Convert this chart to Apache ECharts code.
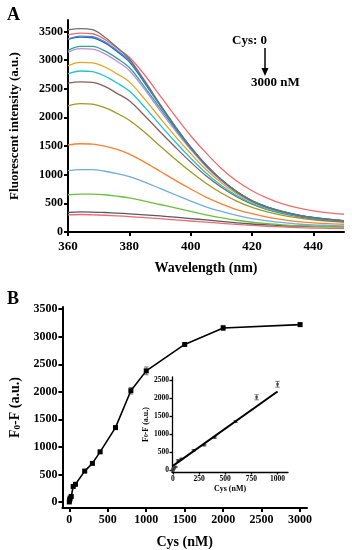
<!DOCTYPE html>
<html><head><meta charset="utf-8">
<script src="https://cdn.jsdelivr.net/npm/echarts@6/dist/echarts.min.js"></script>
<style>html,body{margin:0;padding:0;background:#fff}#c{width:352px;height:550px}</style>
</head><body><div id="c"></div>
<script>
// ---- Panel A data ----
const wavelengths = [360,364,368,372,376,380,385,390,395,400,405,410,415,420,425,430,435,440,445,450];
const concLabels = ['0','5','10','25','50','80','200','300','400','600','800','1000','1500','2000','3000'];
const curveColors = ['#707070','#f26b6b','#3b8fd8','#2d62b8','#2fa68a','#c48bdc','#e3a526','#1ec3d3','#8e5d5d','#9b9b24','#fb8030','#74acd8','#6cbf3a','#5a5a5a','#f06878'];
const c0    = [3530,3550,3530,3400,3220,3020,2640,2230,1840,1480,1170,910,700,540,430,350,290,250,220,195];
const c5    = [3440,3470,3460,3360,3210,3050,2740,2380,2020,1680,1380,1110,890,720,590,490,420,370,335,310];
const c10   = [3370,3420,3410,3320,3170,2990,2620,2220,1840,1480,1170,910,700,540,430,350,290,250,215,190];
const c25   = [3360,3400,3390,3300,3150,2970,2600,2210,1830,1480,1170,910,705,545,435,355,295,250,220,195];
const c50   = [3170,3240,3240,3160,3030,2870,2530,2160,1800,1460,1160,910,705,550,440,360,300,255,225,200];
const c80   = [3140,3200,3190,3110,2980,2820,2490,2120,1770,1440,1140,895,695,540,430,350,290,250,220,195];
const c200  = [2900,2960,2950,2880,2760,2620,2320,1990,1670,1370,1090,860,670,525,420,345,290,250,220,195];
const c300  = [2760,2810,2800,2720,2600,2460,2180,1870,1570,1290,1030,810,635,500,400,330,280,240,210,190];
const c400  = [2600,2620,2610,2540,2420,2290,2030,1750,1480,1220,980,780,615,485,390,320,270,230,200,180];
const c600  = [2200,2240,2230,2170,2070,1950,1740,1500,1270,1050,850,680,540,430,350,290,245,210,190,170];
const c800  = [1520,1540,1535,1500,1440,1360,1220,1060,900,750,610,490,390,320,260,215,180,160,145,135];
const c1000 = [1070,1090,1090,1060,1020,965,870,760,650,540,440,360,290,235,195,165,140,125,115,105];
const c1500 = [650,660,660,650,625,595,540,480,420,360,300,250,205,170,145,125,110,100,92,85];
const c2000 = [340,350,348,340,330,318,300,280,258,235,210,185,160,140,125,112,104,98,94,90];
const c3000 = [300,305,300,292,282,270,252,232,212,192,172,152,132,115,100,88,78,70,64,60];
const curves = [c0,c5,c10,c25,c50,c80,c200,c300,c400,c600,c800,c1000,c1500,c2000,c3000];
const yTicksA = [0,500,1000,1500,2000,2500,3000,3500];
const xTicksA = [360,380,400,420,440];

// ---- Panel B data ----
const cys = [0,5,10,25,50,80,200,300,400,600,800,1000,1500,2000,3000];
const quench = [0,40,70,100,280,320,560,700,910,1350,2020,2380,2860,3160,3220];
const quenchErr = [10,10,10,15,20,20,20,20,20,25,60,70,25,45,30];
const yTicksB = [0,500,1000,1500,2000,2500,3000,3500];
const xTicksB = [0,500,1000,1500,2000,2500,3000];
// inset
const insetCys = [0,5,10,25,50,80,200,300,400,600,800,1000];
const insetQ   = [0,40,70,100,280,320,560,700,910,1350,2020,2380];
const insetErr = [10,10,10,15,20,20,20,20,20,25,70,80];
const fitX = [0,1000];
const fitY = [130,2180];
const yTicksIn = [0,500,1000,1500,2000,2500];
const xTicksIn = [0,250,500,750,1000];

const FONT = '"Liberation Serif","Times New Roman",serif';
const chart = echarts.init(document.getElementById('c'), null, {renderer:'canvas'});

function mkAxis(fs, lw, ticks, margin, extra){
  return Object.assign({
    type:'value',
    axisLine:{show:true,onZero:false,lineStyle:{color:'#000',width:lw}},
    axisTick:{show:true,inside:false,length:lw>1.5?4:2.5,lineStyle:{color:'#000',width:lw},customValues:ticks},
    axisLabel:{color:'#000',fontFamily:FONT,fontWeight:'bold',fontSize:fs,margin:margin,
      customValues:ticks,formatter:(v)=>String(Math.round(v))},
    splitLine:{show:false}
  }, extra);
}

const series = [];
curves.forEach((c,i)=>{
  series.push({type:'line',xAxisIndex:0,yAxisIndex:0,name:concLabels[i]+' nM',
    data:wavelengths.map((w,j)=>[w,c[j]]),showSymbol:false,smooth:0.35,
    lineStyle:{color:curveColors[i],width:1.3},z:2+(15-i)});
});

function errRender(){
  return function(params, api){
    const x = api.value(0), y = api.value(1), e = api.value(2);
    const top = api.coord([x,y+e]), bot = api.coord([x,y-e]);
    const w = 2.2;
    return {type:'group',children:[
      {type:'line',shape:{x1:top[0],y1:top[1],x2:bot[0],y2:bot[1]},style:{stroke:'#555',lineWidth:0.8}},
      {type:'line',shape:{x1:top[0]-w,y1:top[1],x2:top[0]+w,y2:top[1]},style:{stroke:'#555',lineWidth:0.8}},
      {type:'line',shape:{x1:bot[0]-w,y1:bot[1],x2:bot[0]+w,y2:bot[1]},style:{stroke:'#555',lineWidth:0.8}}
    ]};
  };
}

series.push({type:'custom',xAxisIndex:1,yAxisIndex:1,renderItem:errRender(),
  data:cys.map((x,i)=>[x,quench[i],quenchErr[i]]),z:3});
series.push({type:'line',xAxisIndex:1,yAxisIndex:1,data:cys.map((x,i)=>[x,quench[i]]),
  symbol:'rect',symbolSize:5,itemStyle:{color:'#000'},lineStyle:{color:'#000',width:1.6},z:4});

series.push({type:'custom',xAxisIndex:2,yAxisIndex:2,renderItem:errRender(),
  data:insetCys.map((x,i)=>[x,insetQ[i],insetErr[i]]),z:3});
series.push({type:'scatter',xAxisIndex:2,yAxisIndex:2,data:insetCys.map((x,i)=>[x,insetQ[i]]),
  symbol:'rect',symbolSize:2.5,itemStyle:{color:'#333'},z:4});
series.push({type:'line',xAxisIndex:2,yAxisIndex:2,data:fitX.map((x,i)=>[x,fitY[i]]),
  showSymbol:false,lineStyle:{color:'#000',width:2},z:5});

const nameStyle = (fs)=>({color:'#000',fontFamily:FONT,fontWeight:'bold',fontSize:fs});

const option = {
  animation:false,
  backgroundColor:'#fff',
  grid:[
    {left:63,right:8,top:20,bottom:318,containLabel:false},
    {left:59,right:45,top:307,bottom:41,containLabel:false},
    {left:172,width:116,top:377,height:95,containLabel:false}
  ],
  xAxis:[
    mkAxis(13,2,xTicksA,8,{gridIndex:0,min:360,max:450,
      name:'Wavelength (nm)',nameLocation:'middle',nameGap:29,nameTextStyle:nameStyle(14)}),
    mkAxis(12,2,xTicksB,6,{gridIndex:1,min:-90,max:3090,
      name:'Cys (nM)',nameLocation:'middle',nameGap:27,nameTextStyle:nameStyle(14)}),
    mkAxis(7.5,1.3,xTicksIn,3,{gridIndex:2,min:-8,max:1100,
      name:'Cys (nM)',nameLocation:'middle',nameGap:13,nameTextStyle:nameStyle(8)})
  ],
  yAxis:[
    mkAxis(12,2,yTicksA,5,{gridIndex:0,min:0,max:3700,
      name:'Fluorescent intensity (a.u.)',nameLocation:'middle',nameGap:47,nameTextStyle:nameStyle(13)}),
    mkAxis(12,2,yTicksB,5,{gridIndex:1,min:-110,max:3540,
      name:'{b|F}{s|0}{b|-F (a.u.)}',nameLocation:'middle',nameGap:38,
      nameTextStyle:{rich:{b:nameStyle(14),s:Object.assign(nameStyle(9),{padding:[6,0,0,0]})}}}),
    mkAxis(7.5,1.3,yTicksIn,3,{gridIndex:2,min:-40,max:2580,
      name:'{b|F}{s|0}{b|-F (a.u.)}',nameLocation:'middle',nameGap:22,
      nameTextStyle:{rich:{b:nameStyle(8),s:Object.assign(nameStyle(5.5),{padding:[3,0,0,0]})}}})
  ],
  series:series,
  graphic:[
    {type:'text',left:7,top:6,style:{text:'A',font:'bold 18px '+FONT,fill:'#000'}},
    {type:'text',left:7,top:290,style:{text:'B',font:'bold 18px '+FONT,fill:'#000'}},
    {type:'text',left:232,top:34,style:{text:'Cys: 0',font:'bold 13px '+FONT,fill:'#000'}},
    {type:'line',shape:{x1:265,y1:48,x2:265,y2:70},style:{stroke:'#000',lineWidth:1.5}},
    {type:'polygon',shape:{points:[[261.5,68],[268.5,68],[265,76]]},style:{fill:'#000'}},
    {type:'text',left:251,top:76,style:{text:'3000 nM',font:'bold 13px '+FONT,fill:'#000'}}
  ]
};
chart.setOption(option);
</script></body></html>
